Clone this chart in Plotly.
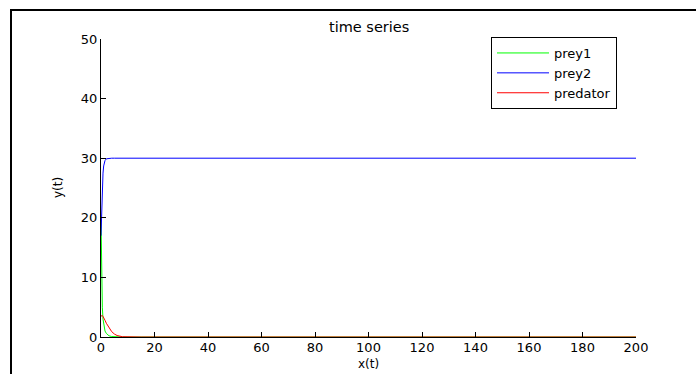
import plotly.graph_objects as go

t = [0, 0.25, 0.5, 0.75, 1, 1.5, 2, 3, 4, 5, 6, 8, 10, 15, 20, 50, 100, 150, 200]
prey1 = [20, 9, 5, 3, 2, 1, 0.6, 0.2, 0.08, 0.04, 0.02, 0.005, 0, 0, 0, 0, 0, 0, 0]
prey2 = [17, 22, 25.5, 27.5, 28.7, 29.6, 29.9, 30, 30, 30, 30, 30, 30, 30, 30, 30, 30, 30, 30]
predator = [3.5, 3.6, 3.6, 3.45, 3.3, 2.8, 2.3, 1.5, 0.9, 0.5, 0.25, 0.05, 0.01, 0, 0, 0, 0, 0, 0]

x_ticks = [0, 20, 40, 60, 80, 100, 120, 140, 160, 180, 200]
y_ticks = [0, 10, 20, 30, 40, 50]

W, H = 696, 374
ML, MR, MT, MB = 101, 60, 39, 37
PW, PH = W - ML - MR, H - MT - MB
FONT = "DejaVu Sans"

fig = go.Figure()
fig.add_trace(go.Scatter(x=t, y=prey1, mode="lines", name="prey1",
                         line=dict(color="#00ff00", width=1)))
fig.add_trace(go.Scatter(x=t, y=prey2, mode="lines", name="prey2",
                         line=dict(color="#0000ff", width=1)))
fig.add_trace(go.Scatter(x=t, y=predator, mode="lines", name="predator",
                         line=dict(color="#ff0000", width=1)))

def px_x(p):
    return (p - ML) / PW

def px_y(p):
    return (H - MB - p) / PH

axis_common = dict(showline=True, linecolor="black", linewidth=1, mirror=False,
                   showgrid=False, zeroline=False, ticks="inside", ticklen=5,
                   tickcolor="black", tickwidth=1,
                   tickfont=dict(family=FONT, size=13, color="black"))

fig.update_layout(
    width=W, height=H,
    margin=dict(l=ML, r=MR, t=MT, b=MB, pad=0),
    paper_bgcolor="white", plot_bgcolor="white",
    font=dict(family=FONT, size=13, color="black"),
    xaxis=dict(range=[0, 200], tickvals=x_ticks, ticklabelstandoff=-2, **axis_common),
    yaxis=dict(range=[0, 50], tickvals=y_ticks, **axis_common),
    showlegend=True,
    legend=dict(x=px_x(491), y=px_y(37), xanchor="left", yanchor="top",
                bordercolor="black", borderwidth=1, bgcolor="white",
                font=dict(family=FONT, size=13, color="black"),
                tracegroupgap=0, itemwidth=52),
    annotations=[
        dict(text="time series", xref="paper", yref="paper", x=0.5, y=px_y(27),
             xanchor="center", yanchor="middle", showarrow=False,
             font=dict(family=FONT, size=14.5, color="black")),
        dict(text="x(t)", xref="paper", yref="paper", x=0.5, y=px_y(364),
             xanchor="center", yanchor="middle", showarrow=False,
             font=dict(family=FONT, size=12, color="black")),
        dict(text="y(t)", xref="paper", yref="paper", x=px_x(58), y=px_y(188),
             xanchor="center", yanchor="middle", showarrow=False, textangle=-90,
             font=dict(family=FONT, size=12, color="black")),
    ],
    shapes=[
        dict(type="rect", xref="paper", yref="paper",
             x0=px_x(11), x1=px_x(720), y0=px_y(400), y1=px_y(10),
             line=dict(color="black", width=2), layer="above"),
    ],
)

fig.write_html("out.html", config={"displayModeBar": False},
               post_script="document.body.style.margin='0';")
